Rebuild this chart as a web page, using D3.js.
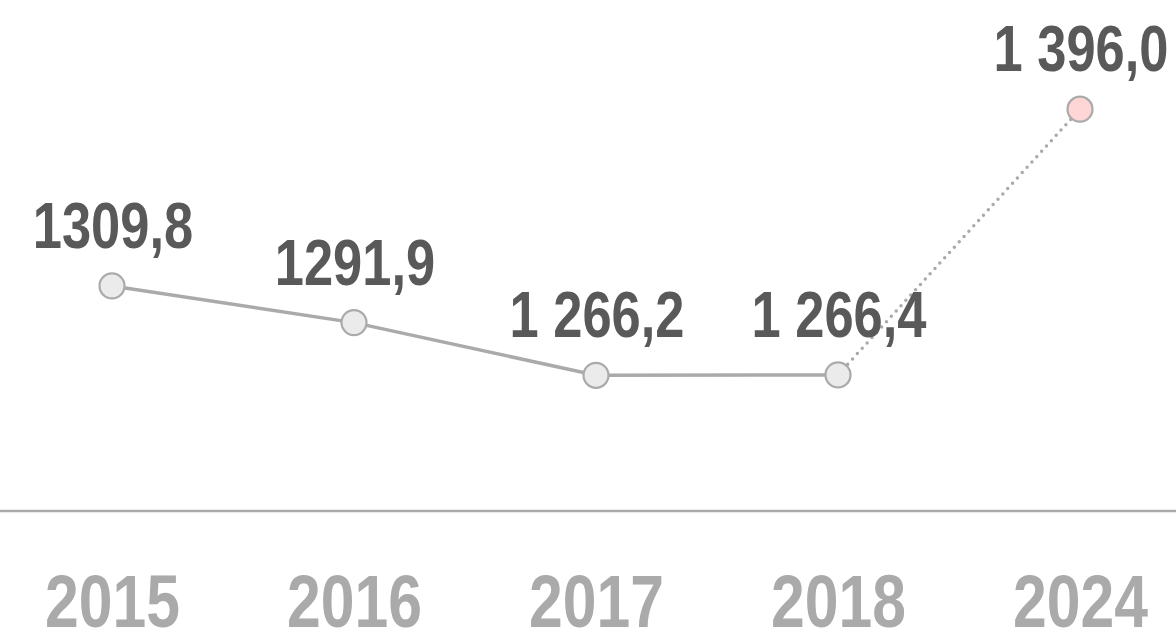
<!DOCTYPE html>
<html>
<head>
<meta charset="utf-8">
<script src="https://cdn.jsdelivr.net/npm/d3@7"></script>
<style>
  html, body { margin: 0; padding: 0; background: #fff; overflow: hidden; }
  svg { display: block; }
  text { font-family: "Liberation Sans Narrow", "Arial Narrow", "Liberation Sans", Arial, sans-serif; font-weight: bold; }
</style>
</head>
<body>
<svg id="chart" width="1176" height="636"></svg>
<script>
const years = ["2015", "2016", "2017", "2018", "2024"];
const values = [1309.8, 1291.9, 1266.2, 1266.4, 1396.0];
const valueLabels = ["1309,8", "1291,9", "1 266,2", "1 266,4", "1 396,0"];
const forecast = [false, false, false, false, true];

const svg = d3.select("#chart");
const W = 1176, H = 636;
const NARROW = 0.82; // emulate a narrow bold face

const x = d3.scalePoint().domain(years).range([112, 1080]);
const y = d3.scaleLinear().domain([1200, 1420]).range([511, 60]);

const data = years.map((yr, i) => ({ yr, v: values[i], label: valueLabels[i], f: forecast[i] }));

// baseline
svg.append("line")
  .attr("x1", 0).attr("x2", W)
  .attr("y1", y(1200)).attr("y2", y(1200))
  .attr("stroke", "#aaaaaa").attr("stroke-width", 2.5);

// x axis labels
const xAxis = d3.axisBottom(x).tickSize(0).tickPadding(0);
const gx = svg.append("g").attr("transform", `translate(0,${y(1200)})`).call(xAxis);
gx.select(".domain").remove();
gx.selectAll("text")
  .attr("y", 0).attr("dy", null)
  .attr("transform", `translate(0,116) scale(${NARROW},1)`)
  .attr("fill", "#aaaaaa")
  .style("font-size", "74px")
  .style("font-family", "'Liberation Sans', Arial, sans-serif")
  .style("font-weight", "bold");

const line = d3.line().x(d => x(d.yr)).y(d => y(d.v));

// solid line for actuals
svg.append("path")
  .datum(data.filter(d => !d.f))
  .attr("d", line)
  .attr("fill", "none")
  .attr("stroke", "#aaaaaa")
  .attr("stroke-width", 3.5);

// dotted line to forecast
svg.append("path")
  .datum(data.slice(3))
  .attr("d", line)
  .attr("fill", "none")
  .attr("stroke", "#aaaaaa")
  .attr("stroke-width", 3.5)
  .attr("stroke-linecap", "round")
  .attr("stroke-dasharray", "0 7.2");

// points
svg.selectAll("circle.pt")
  .data(data)
  .join("circle")
  .attr("class", "pt")
  .attr("cx", d => x(d.yr))
  .attr("cy", d => y(d.v))
  .attr("r", 12.5)
  .attr("fill", d => d.f ? "#ffd6d6" : "#ebebeb")
  .attr("stroke", "#aaaaaa")
  .attr("stroke-width", 2.2);

// value labels
svg.selectAll("text.val")
  .data(data)
  .join("text")
  .attr("class", "val")
  .attr("transform", d => `translate(${x(d.yr) + 1},${y(d.v) - 38}) scale(${NARROW},1)`)
  .attr("text-anchor", "middle")
  .attr("fill", "#595959")
  .style("font-size", "64px")
  .text(d => d.label);
</script>
</body>
</html>
